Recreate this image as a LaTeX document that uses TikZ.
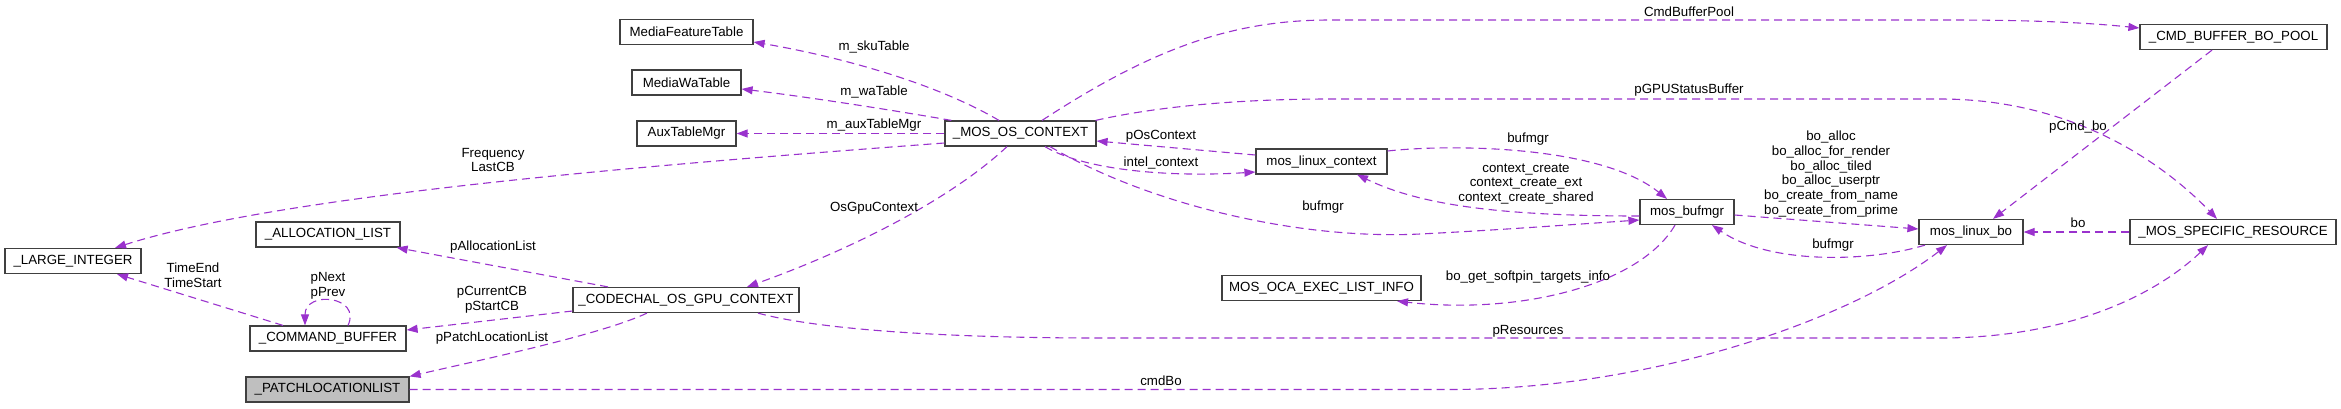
\documentclass[tikz,border=0pt]{standalone}
\usepackage{fontspec}
\setmainfont{Liberation Sans}
\usepackage{xcolor}
\definecolor{dxpurple}{RGB}{154,50,205}
\definecolor{dxframe}{RGB}{64,64,64}
\definecolor{dxgray}{RGB}{191,191,191}
\usepackage{tikz}
\usetikzlibrary{arrows.meta, calc}
\newcommand{\dxfont}{\fontsize{13.3}{14.8}\selectfont}
\tikzset{
  cls/.style={draw=dxframe, line width=1.2pt, fill=white, minimum height=25pt, inner sep=0pt, font=\dxfont},
  mem/.style={draw=dxpurple, line width=1.1pt, dash pattern=on 8pt off 5pt, -{Triangle[length=11pt,width=8pt]}},
  lbl/.style={font=\dxfont, align=center, inner sep=0pt},
}

\begin{document}
\begin{tikzpicture}[x=1pt, y=-1pt]
  \useasboundingbox (0,0) rectangle (2341,408);

  % Classes, left column
  \node[cls, minimum width=136pt] (largeint) at (73,261) {\_LARGE\_INTEGER};
  \node[cls, minimum width=144pt] (alloclist) at (328,234.5) {\_ALLOCATION\_LIST};
  \node[cls, minimum width=156pt] (cmdbuf) at (328,338.5) {\_COMMAND\_BUFFER};
  \node[cls, minimum width=163pt, fill=dxgray] (patchlist) at (327.5,389.5) {\_PATCHLOCATIONLIST};

  % Classes, middle
  \node[cls, minimum width=133pt] (mft) at (686.5,32) {MediaFeatureTable};
  \node[cls, minimum width=109pt] (mwt) at (686.5,82.5) {MediaWaTable};
  \node[cls, minimum width=99pt] (atm) at (686.5,133.5) {AuxTableMgr};
  \node[cls, minimum width=226pt] (codechal) at (686,300) {\_CODECHAL\_OS\_GPU\_CONTEXT};
  \node[cls, minimum width=151pt] (mos) at (1020.5,133.5) {\_MOS\_OS\_CONTEXT};
  \node[cls, minimum width=131pt] (mlc) at (1321.5,161.5) {mos\_linux\_context};
  \node[cls, minimum width=199pt] (oca) at (1321.5,288) {MOS\_OCA\_EXEC\_LIST\_INFO};

  % Classes, right
  \node[cls, minimum width=94pt] (mbm) at (1687,212) {mos\_bufmgr};
  \node[cls, minimum width=104pt] (mlb) at (1971,232) {mos\_linux\_bo};
  \node[cls, minimum width=187pt] (pool) at (2233.5,37) {\_CMD\_BUFFER\_BO\_POOL};
  \node[cls, minimum width=206pt] (msr) at (2233,232) {\_MOS\_SPECIFIC\_RESOURCE};

  % Members of _MOS_OS_CONTEXT
  \draw[mem] ([xshift=-21.5pt]mos.north) .. controls (930,80) and (830,55) .. ([yshift=-10pt]mft.east);
  \draw[mem] ([xshift=7pt]mos.north west) .. controls (880,108) and (800,96) .. ([yshift=-6.5pt]mwt.east);
  \draw[mem] (mos.west) -- (atm.east);
  \draw[mem] ([yshift=-9.5pt]mos.west) .. controls (650,165) and (280,195) .. ([xshift=42pt]largeint.north);
  \draw[mem] ([xshift=-13.5pt]mos.south) .. controls (950,200) and (850,250) .. ([xshift=61pt]codechal.north);
  \draw[mem] ([xshift=21.5pt]mos.north) .. controls (1150,50) and (1230,20) .. (1330,20) -- (1950,20)
    .. controls (2050,20) and (2100,24) .. ([yshift=9pt]pool.west);
  \draw[mem] ([xshift=-1pt]mos.north east) .. controls (1150,108) and (1230,99) .. (1330,99) -- (1940,99)
    .. controls (2080,99) and (2170,170) .. ([xshift=-16pt]msr.north);
  \draw[mem] ([xshift=24.5pt]mos.south) .. controls (1080,168) and (1160,178) .. ([yshift=-10.5pt]mlc.west);
  \draw[mem] ([xshift=29.5pt]mos.south) .. controls (1150,205) and (1300,240) .. (1420,234)
    .. controls (1500,230) and (1580,224) .. ([yshift=-8pt]mbm.west);

  % Members of mos_linux_context and mos_bufmgr
  \draw[mem] ([yshift=6.5pt]mlc.west) -- ([yshift=-7.5pt]mos.east);
  \draw[mem] ([yshift=10.5pt]mlc.east) .. controls (1450,144) and (1600,145) .. ([xshift=-20pt]mbm.north);
  \draw[mem] ([yshift=-4pt]mbm.west) .. controls (1500,216) and (1420,205) .. ([xshift=35.5pt]mlc.south);
  \draw[mem] ([xshift=-12pt]mbm.south) .. controls (1640,285) and (1520,315) .. ([xshift=75.5pt]oca.south);
  \draw[mem] ([yshift=-3pt]mbm.east) -- ([yshift=3pt]mlb.west);

  % Members of mos_linux_bo, pool and resource
  \draw[mem] ([xshift=-46pt]mlb.south) .. controls (1870,262) and (1770,265) .. ([xshift=25pt]mbm.south);
  \draw[mem] ([xshift=-21.5pt]pool.south) -- ([xshift=22pt]mlb.north);
  \draw[mem] (msr.west) -- (mlb.east);

  % Members of _CODECHAL_OS_GPU_CONTEXT
  \draw[mem] ([xshift=-78pt]codechal.north) -- ([xshift=-4pt]alloclist.south east);
  \draw[mem] ([yshift=-11pt]codechal.west) -- ([yshift=8.5pt]cmdbuf.east);
  \draw[mem] ([xshift=-39pt]codechal.south) .. controls (600,335) and (480,360) .. (patchlist.north east);
  \draw[mem] ([xshift=72pt]codechal.south) .. controls (820,330) and (950,338) .. (1100,338) -- (1940,338)
    .. controls (2060,338) and (2150,300) .. ([xshift=-25pt]msr.south);

  % Members of _PATCHLOCATIONLIST and _COMMAND_BUFFER
  \draw[mem] (patchlist.east) -- (1450,389.5) .. controls (1650,389.5) and (1850,320) .. ([xshift=-24pt]mlb.south);
  \draw[mem] ([xshift=-45pt]cmdbuf.north) -- ([xshift=44pt]largeint.south);
  \draw[mem] ([xshift=20pt]cmdbuf.north) .. controls (362,296) and (305,290) .. ([xshift=-23pt]cmdbuf.north);

  % Edge labels
  \node[lbl] (lfreq) at (493,160) {Frequency\\LastCB};
  \node[lbl] (ltime) at (193,275.5) {TimeEnd\\TimeStart};
  \node[lbl] (lnext) at (328,285.5) {pNext\\pPrev};
  \node[lbl] (lalloc) at (493,247) {pAllocationList};
  \node[lbl] (lcurrent) at (492,299.5) {pCurrentCB\\pStartCB};
  \node[lbl] (lpatch) at (492,338) {pPatchLocationList};
  \node[lbl] (lsku) at (874,47) {m\_skuTable};
  \node[lbl] (lwa) at (874,92) {m\_waTable};
  \node[lbl] (laux) at (874,125) {m\_auxTableMgr};
  \node[lbl] (losgpu) at (874,208) {OsGpuContext};
  \node[lbl] (losctx) at (1161,136) {pOsContext};
  \node[lbl] (lintel) at (1161,163) {intel\_context};
  \node[lbl] (lcmdbo) at (1161,381) {cmdBo};
  \node[lbl] (lbuftop) at (1528,139) {bufmgr};
  \node[lbl] (lcreate) at (1526,184) {context\_create\\context\_create\_ext\\context\_create\_shared};
  \node[lbl] (lbuflow) at (1323,207) {bufmgr};
  \node[lbl] (lsoftpin) at (1528,277) {bo\_get\_softpin\_targets\_info};
  \node[lbl] (lres) at (1528,331) {pResources};
  \node[lbl] (lpool) at (1689,12) {CmdBufferPool};
  \node[lbl] (lstatus) at (1689,90) {pGPUStatusBuffer};
  \node[lbl] (lallocs) at (1831,174) {bo\_alloc\\bo\_alloc\_for\_render\\bo\_alloc\_tiled\\bo\_alloc\_userptr\\bo\_create\_from\_name\\bo\_create\_from\_prime};
  \node[lbl] (lbufbo) at (1833,245) {bufmgr};
  \node[lbl] (lpcmd) at (2078,127) {pCmd\_bo};
  \node[lbl] (lbo) at (2078,223) {bo};
\end{tikzpicture}
\end{document}
